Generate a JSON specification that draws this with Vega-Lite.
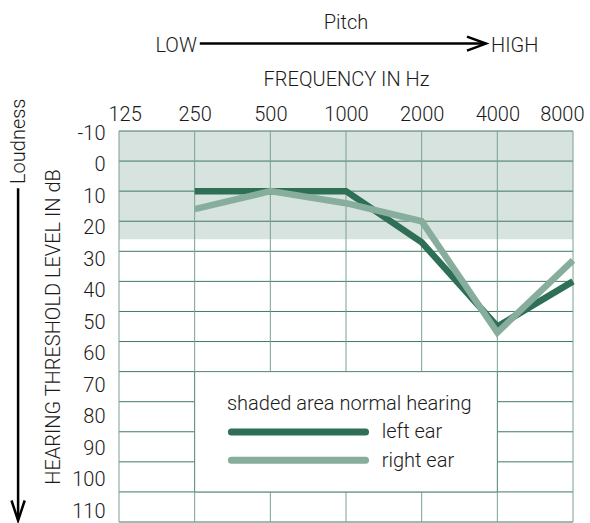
{
  "$schema": "https://vega.github.io/schema/vega-lite/v6.json",
  "width": 454,
  "height": 391,
  "autosize": {"type": "none"},
  "padding": {"left": 119, "top": 131, "right": 17, "bottom": 1},
  "background": "white",
  "config": {
    "view": {"stroke": null},
    "font": "Roboto",
    "text": {"font": "Roboto", "fontSize": 20, "fontWeight": 300, "color": "#1a1a1a"}
  },
  "datasets": {
    "audiogram": [
      {"hz": 250, "db": 10, "ear": "left ear"},
      {"hz": 500, "db": 10, "ear": "left ear"},
      {"hz": 1000, "db": 10, "ear": "left ear"},
      {"hz": 2000, "db": 27, "ear": "left ear"},
      {"hz": 4000, "db": 55, "ear": "left ear"},
      {"hz": 8000, "db": 40, "ear": "left ear"},
      {"hz": 250, "db": 16, "ear": "right ear"},
      {"hz": 500, "db": 10, "ear": "right ear"},
      {"hz": 1000, "db": 14, "ear": "right ear"},
      {"hz": 2000, "db": 20, "ear": "right ear"},
      {"hz": 4000, "db": 57, "ear": "right ear"},
      {"hz": 8000, "db": 33, "ear": "right ear"}
    ],
    "hgrid": [
      {"db": -10}, {"db": 0}, {"db": 10}, {"db": 20}, {"db": 30}, {"db": 40}, {"db": 50},
      {"db": 60}, {"db": 70}, {"db": 80}, {"db": 90}, {"db": 100}, {"db": 110}, {"db": 120}
    ],
    "vgrid": [
      {"hz": 125}, {"hz": 250}, {"hz": 500}, {"hz": 1000}, {"hz": 2000}, {"hz": 4000}, {"hz": 8000}
    ],
    "normal": [{"hz_from": 125, "hz_to": 8000, "db_from": -10, "db_to": 26}],
    "box": [{"hz_from": 250, "hz_to": 4000, "db_from": 70, "db_to": 110}]
  },
  "layer": [
    {
      "data": {"name": "normal"},
      "mark": {"type": "rect", "color": "#d7e3de"},
      "encoding": {
        "x": {
          "field": "hz_from", "type": "quantitative",
          "scale": {"type": "log", "base": 2, "domain": [125, 8000], "nice": false},
          "axis": {
            "orient": "top", "values": [125, 250, 500, 1000, 2000, 4000, 8000], "format": "d", "tickCount": 20,
            "grid": false, "ticks": false, "domain": false, "labelOverlap": false,
            "labelFont": "Roboto", "labelFontSize": 20, "labelFontWeight": 300, "labelColor": "#1a1a1a",
            "labelBaseline": "alphabetic", "labelPadding": 11,
            "labelFlush": true, "labelFlushOffset": 11,
            "title": "FREQUENCY IN Hz", "titleFont": "Roboto",
            "titleFontSize": 20, "titleFontWeight": 300, "titleColor": "#1a1a1a",
            "titleBaseline": "alphabetic", "titlePadding": 19
          }
        },
        "x2": {"field": "hz_to"},
        "y": {
          "field": "db_from", "type": "quantitative",
          "scale": {"domain": [-10, 120], "reverse": true, "nice": false, "zero": false},
          "axis": {
            "orient": "left", "values": [-10, 0, 10, 20, 30, 40, 50, 60, 70, 80, 90, 100, 110], "tickCount": 20,
            "labelExpr": "'' + datum.value",
            "grid": false, "ticks": false, "domain": false, "labelOverlap": false, "labelBound": false,
            "labelFont": "Roboto", "labelFontSize": 20, "labelFontWeight": 300, "labelColor": "#1a1a1a",
            "labelPadding": 14, "labelBaseline": "middle",
            "labelOffset": {"expr": "2.3 + (datum.value + 10) * 0.1425"},
            "title": "HEARING THRESHOLD LEVEL IN dB", "titleFont": "Roboto",
            "titleFontSize": 20, "titleFontWeight": 300, "titleColor": "#1a1a1a",
            "titleBaseline": "alphabetic", "titlePadding": 12
          }
        },
        "y2": {"field": "db_to"}
      }
    },
    {
      "data": {"name": "hgrid"},
      "mark": {"type": "rule", "color": "#3f7966", "strokeWidth": 1},
      "encoding": {
        "y": {"field": "db", "type": "quantitative"}
      }
    },
    {
      "data": {"name": "vgrid"},
      "mark": {"type": "rule", "color": "#79a191", "strokeWidth": 1},
      "encoding": {
        "x": {"field": "hz", "type": "quantitative"}
      }
    },
    {
      "data": {"name": "box"},
      "mark": {"type": "rect", "fill": "white", "stroke": "#5a8c79", "strokeWidth": 1},
      "encoding": {
        "x": {"field": "hz_from", "type": "quantitative"},
        "x2": {"field": "hz_to"},
        "y": {"field": "db_from", "type": "quantitative"},
        "y2": {"field": "db_to"}
      }
    },
    {
      "data": {"name": "audiogram"},
      "mark": {"type": "line", "strokeWidth": 6.5, "strokeCap": "butt", "strokeJoin": "miter"},
      "encoding": {
        "x": {"field": "hz", "type": "quantitative"},
        "y": {"field": "db", "type": "quantitative"},
        "color": {"field": "ear", "type": "nominal", "scale": {"domain": ["left ear", "right ear"], "range": ["#2f6f56", "#87ad9c"]}, "legend": null}
      }
    },
    {
      "data": {"values": [{}]},
      "layer": [
        {
          "mark": {"type": "text", "text": "shaded area normal hearing", "align": "left", "baseline": "alphabetic"},
          "encoding": {"x": {"datum": 336, "type": "quantitative"}, "y": {"datum": 82.9, "type": "quantitative"}}
        },
        {
          "mark": {"type": "rule", "strokeWidth": 7, "strokeCap": "round"},
          "encoding": {
            "x": {"datum": 350, "type": "quantitative"}, "x2": {"datum": 1196},
            "y": {"datum": 90.1, "type": "quantitative"},
            "color": {"datum": "left ear", "type": "nominal", "legend": null}
          }
        },
        {
          "mark": {"type": "rule", "strokeWidth": 7, "strokeCap": "round"},
          "encoding": {
            "x": {"datum": 350, "type": "quantitative"}, "x2": {"datum": 1196},
            "y": {"datum": 99.5, "type": "quantitative"},
            "color": {"datum": "right ear", "type": "nominal", "legend": null}
          }
        },
        {
          "mark": {"type": "text", "text": "left ear", "align": "left", "baseline": "alphabetic"},
          "encoding": {"x": {"datum": 1387, "type": "quantitative"}, "y": {"datum": 92.2, "type": "quantitative"}}
        },
        {
          "mark": {"type": "text", "text": "right ear", "align": "left", "baseline": "alphabetic"},
          "encoding": {"x": {"datum": 1387, "type": "quantitative"}, "y": {"datum": 101.6, "type": "quantitative"}}
        },
        {
          "mark": {"type": "text", "text": "Pitch", "align": "center", "baseline": "alphabetic"},
          "encoding": {"x": {"datum": 1000, "type": "quantitative"}, "y": {"datum": -44, "type": "quantitative"}}
        },
        {
          "mark": {"type": "text", "text": "LOW", "align": "right", "baseline": "alphabetic"},
          "encoding": {"x": {"datum": 255, "type": "quantitative"}, "y": {"datum": -36.3, "type": "quantitative"}}
        },
        {
          "mark": {"type": "text", "text": "HIGH", "align": "left", "baseline": "alphabetic"},
          "encoding": {"x": {"datum": 3775, "type": "quantitative"}, "y": {"datum": -36.3, "type": "quantitative"}}
        },
        {
          "mark": {"type": "rule", "color": "black", "strokeWidth": 2.5},
          "encoding": {
            "x": {"datum": 262, "type": "quantitative"}, "x2": {"datum": 3560},
            "y": {"datum": -39.06, "type": "quantitative"}
          }
        },
        {
          "mark": {"type": "point", "shape": "M-1,-0.37L0,0L-1,0.37", "filled": false, "color": "black", "strokeWidth": 2.5, "size": 1444, "opacity": 1},
          "encoding": {"x": {"datum": 3605, "type": "quantitative"}, "y": {"datum": -39.06, "type": "quantitative"}}
        },
        {
          "mark": {"type": "text", "text": "Loudness", "angle": 270, "align": "center", "baseline": "alphabetic"},
          "encoding": {"x": {"datum": 52.8, "type": "quantitative"}, "y": {"datum": -6.6, "type": "quantitative"}}
        },
        {
          "mark": {"type": "rule", "color": "black", "strokeWidth": 2.5},
          "encoding": {
            "x": {"datum": 49.6, "type": "quantitative"},
            "y": {"datum": 9, "type": "quantitative"}, "y2": {"datum": 119}
          }
        },
        {
          "mark": {"type": "point", "shape": "M-0.33,-1L0,0L0.33,-1", "filled": false, "color": "black", "strokeWidth": 2.5, "size": 1600, "opacity": 1},
          "encoding": {"x": {"datum": 49.6, "type": "quantitative"}, "y": {"datum": 119.5, "type": "quantitative"}}
        }
      ]
    }
  ]
}
